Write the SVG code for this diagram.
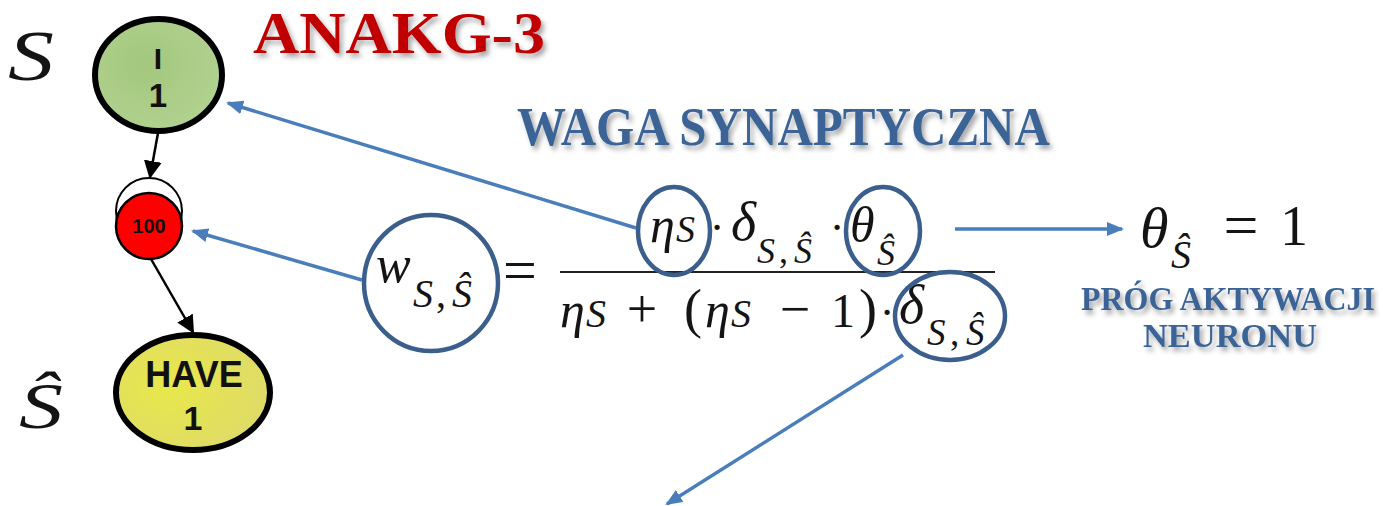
<svg xmlns="http://www.w3.org/2000/svg" width="1383" height="506" viewBox="0 0 1383 506">
<style>
.node{stroke:#000}
.nt{font-family:"Liberation Sans",Arial,sans-serif;font-weight:bold;fill:#111;text-anchor:middle}
.m{font-family:"Liberation Serif","Times New Roman",serif;font-style:italic;fill:#141414}
.u{font-family:"Liberation Serif","Times New Roman",serif;fill:#141414}
.mid{text-anchor:middle}
.hl{fill:none;stroke:#3B5E8C;stroke-width:4.5}
.blue{stroke:#4A7EBB;stroke-width:3.5;fill:none}
.blk{stroke:#000;stroke-width:2.5;fill:none}
.title{font-family:"Liberation Serif","Times New Roman",serif;font-weight:bold}
</style>
<defs>
<marker id="ab" markerUnits="userSpaceOnUse" markerWidth="18" markerHeight="14" refX="15" refY="7" orient="auto">
<path d="M0,0 L17,7 L0,14 z" fill="#4A7EBB"/>
</marker>
<marker id="ak" markerUnits="userSpaceOnUse" markerWidth="18" markerHeight="18" refX="16" refY="9" orient="auto">
<path d="M0,0 L18,9 L0,18 z" fill="#000"/>
</marker>
<radialGradient id="gg" cx="0.4" cy="0.4" r="0.7">
<stop offset="0" stop-color="#A3C77D"/><stop offset="1" stop-color="#B3D392"/>
</radialGradient>
<radialGradient id="gy" cx="0.35" cy="0.45" r="0.7">
<stop offset="0" stop-color="#E8E84A"/><stop offset="1" stop-color="#DEDA6A"/>
</radialGradient>
<filter id="sh" x="-10%" y="-20%" width="130%" height="150%">
<feDropShadow dx="3" dy="4" stdDeviation="2.5" flood-color="#000" flood-opacity="0.35"/>
</filter>
</defs>

<rect width="1383" height="506" fill="#fff"/>

<g id="connectors">
<line class="blk" x1="158" y1="133" x2="150" y2="177" marker-end="url(#ak)"/>
<line class="blk" x1="151" y1="259" x2="193" y2="332" marker-end="url(#ak)"/>
<line class="blue" x1="636" y1="228" x2="228" y2="103" marker-end="url(#ab)"/>
<line class="blue" x1="362" y1="280" x2="193" y2="231" marker-end="url(#ab)"/>
<line class="blue" x1="903" y1="355" x2="667" y2="504" marker-end="url(#ab)"/>
<line class="blue" x1="955" y1="229" x2="1122" y2="229" marker-end="url(#ab)"/>
</g>

<g id="node-I">
<ellipse class="node" cx="158.5" cy="75" rx="63.5" ry="56" fill="url(#gg)" stroke-width="6"/>
<text class="nt" x="158" y="69" font-size="30">I</text>
<text class="nt" x="158" y="107" font-size="33">1</text>
</g>

<g id="node-100">
<circle cx="149" cy="211" r="33" fill="#fff" stroke="#000" stroke-width="2"/>
<circle cx="149" cy="226" r="33" fill="#FF0000" stroke="#000" stroke-width="2.5"/>
<text class="nt" x="149" y="233" font-size="20">100</text>
</g>

<g id="node-HAVE">
<ellipse class="node" cx="193" cy="392.5" rx="77" ry="57.5" fill="url(#gy)" stroke-width="6"/>
<text class="nt" x="194" y="387" font-size="36">HAVE</text>
<text class="nt" x="193" y="430" font-size="34">1</text>
</g>

<g id="labels">
<text class="m" x="8" y="80" font-size="72" textLength="46" lengthAdjust="spacingAndGlyphs">S</text>
<text class="m" x="19" y="428" font-size="66" textLength="44" lengthAdjust="spacingAndGlyphs">Ŝ</text>
<text class="title" x="253" y="53" font-size="59" fill="#C00000" textLength="292" lengthAdjust="spacingAndGlyphs" filter="url(#sh)">ANAKG-3</text>
<text class="title" x="517" y="145" font-size="54" fill="#3A6496" textLength="533" lengthAdjust="spacingAndGlyphs" filter="url(#sh)">WAGA SYNAPTYCZNA</text>
<text class="title" transform="translate(1081,310) scale(1,1.08)" x="0" y="0" font-size="31" fill="#3A6496" textLength="294" lengthAdjust="spacingAndGlyphs" filter="url(#sh)">PRÓG AKTYWACJI</text>
<text class="title" x="1143" y="347" font-size="34" fill="#3A6496" textLength="174" lengthAdjust="spacingAndGlyphs" filter="url(#sh)">NEURONU</text>
</g>

<g id="formula">
<text class="m" x="376" y="282" font-size="52">w</text>
<text class="m" x="413" y="307" font-size="40">S</text>
<text class="u" x="436" y="307" font-size="40">,</text>
<text class="m" x="452" y="307" font-size="40">Ŝ</text>
<text class="u mid" x="520" y="290" font-size="60">=</text>
<line x1="560" y1="272" x2="995" y2="272" stroke="#222" stroke-width="2"/>
<text class="m" x="650" y="242" font-size="50">η</text>
<text class="m" x="676" y="242" font-size="38">S</text>
<text class="u mid" x="717" y="242" font-size="44">·</text>
<text class="m" x="731" y="240" font-size="54">δ</text>
<text class="m" x="757" y="263" font-size="36">S</text>
<text class="u" x="779" y="263" font-size="36">,</text>
<text class="m" x="794" y="263" font-size="36">Ŝ</text>
<text class="u mid" x="837" y="242" font-size="44">·</text>
<text class="m" x="850" y="242" font-size="50">θ</text>
<text class="m" x="877" y="265" font-size="36">Ŝ</text>
<text class="m" x="560" y="327" font-size="50">η</text>
<text class="m" x="586" y="327" font-size="40">S</text>
<text class="u mid" x="642" y="327" font-size="54">+</text>
<text class="u" x="684" y="327" font-size="54">(</text>
<text class="m" x="705" y="327" font-size="50">η</text>
<text class="m" x="731" y="327" font-size="40">S</text>
<text class="u mid" x="795" y="327" font-size="54">−</text>
<text class="u mid" x="843" y="327" font-size="48">1</text>
<text class="u" x="859" y="327" font-size="54">)</text>
<text class="u mid" x="887" y="327" font-size="44">·</text>
<text class="m" x="899" y="323" font-size="54">δ</text>
<text class="m" x="927" y="345" font-size="37">S</text>
<text class="u" x="950" y="345" font-size="37">,</text>
<text class="m" x="966" y="345" font-size="37">Ŝ</text>
<ellipse class="hl" cx="431" cy="283" rx="67" ry="68"/>
<ellipse class="hl" cx="674" cy="231" rx="36" ry="44"/>
<ellipse class="hl" cx="883" cy="231" rx="37" ry="44"/>
<ellipse class="hl" cx="950" cy="316" rx="55" ry="44"/>
<text class="m" x="1140" y="247" font-size="58">θ</text>
<text class="m" x="1171" y="268" font-size="40">Ŝ</text>
<text class="u mid" x="1241" y="246" font-size="62">=</text>
<text class="u mid" x="1294" y="245" font-size="56">1</text>
</g>
</svg>
